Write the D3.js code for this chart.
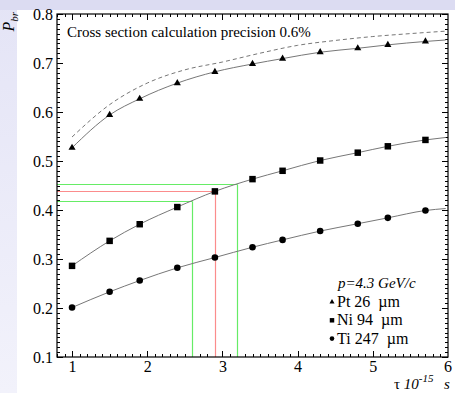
<!DOCTYPE html>
<html>
<head>
<meta charset="utf-8">
<script src="https://cdn.jsdelivr.net/npm/d3@7"></script>
<style>
  body { margin: 0; background: #fff; }
</style>
</head>
<body>
<div id="chart"></div>
<script>
// data
const tau = [1, 1.5, 1.9, 2.4, 2.9, 3.4, 3.8, 4.3, 4.8, 5.2, 5.7];
const pt = [0.527, 0.594, 0.627, 0.659, 0.682, 0.698, 0.709, 0.722, 0.730, 0.737, 0.744];
const ni = [0.286, 0.337, 0.371, 0.406, 0.438, 0.463, 0.480, 0.501, 0.517, 0.530, 0.543];
const ti = [0.201, 0.233, 0.256, 0.282, 0.303, 0.324, 0.339, 0.357, 0.372, 0.384, 0.399];
// fitted curves run on to the right edge of the frame
const tauEnd = 5.97;
const fitEnd = [0.747, 0.548, 0.403];
// dashed curve (upper)
const dashTau = [1, 1.5, 2, 2.5, 3, 3.5, 4, 4.5, 5, 5.5, 5.97];
const dashP = [0.549, 0.615, 0.659, 0.686, 0.702, 0.720, 0.736, 0.746, 0.754, 0.760, 0.765];
// interval guide lines: [tau, P]
const greenGuides = [[2.6, 0.419], [3.2, 0.453]];
const redGuide = [2.9, 0.438];

const xTicks = [1, 2, 3, 4, 5, 6];
const yTicks = [0.1, 0.2, 0.3, 0.4, 0.5, 0.6, 0.7, 0.8];
const legendTitle = "p=4.3 GeV/c";
const legendLabels = ["Pt 26  \u00b5m", "Ni 94  \u00b5m", "Ti 247  \u00b5m"];
const note = "Cross section calculation precision 0.6%";

const W = 455, H = 393;
const mLeft = 57, mRight = 448, mTop = 14, mBottom = 357;
const serif = "'Liberation Serif', 'Times New Roman', Times, serif";

const svg = d3.select("#chart").append("svg")
  .attr("width", W).attr("height", H)
  .style("font-family", serif);

// slide background
const defs = svg.append("defs");
const grad = defs.append("linearGradient").attr("id", "side")
  .attr("x1", 0).attr("y1", 0).attr("x2", 0).attr("y2", 1);
grad.append("stop").attr("offset", 0).attr("stop-color", "#e4e4f6");
grad.append("stop").attr("offset", 1).attr("stop-color", "#f2f2fb");
svg.append("rect").attr("x", 0).attr("y", 0).attr("width", 17).attr("height", H).attr("fill", "url(#side)");
svg.append("rect").attr("x", 0).attr("y", 0).attr("width", W).attr("height", 10).attr("fill", "#dcdcf2");

const x = d3.scaleLinear().domain([0.8, 6]).range([mLeft, mRight]);
const y = d3.scaleLinear().domain([0.1, 0.8]).range([mBottom, mTop]);

const xMinor = d3.range(8, 61).map(d => d / 10).filter(d => d <= 5.99);
const yMinor = d3.range(10, 81).map(d => d / 100);

function tickAxis(axis, ticks, size, tx, ty, labels) {
  const g = svg.append("g").attr("transform", "translate(" + tx + "," + ty + ")")
    .call(axis.tickValues(ticks).tickSizeInner(size).tickSizeOuter(0).tickPadding(4)
      .tickFormat(labels ? d3.format(".1~f") : ""));
  g.attr("font-family", null).attr("font-size", null);
  g.select(".domain").remove();
  g.selectAll("line").attr("stroke", "#000").attr("shape-rendering", "crispEdges");
  g.selectAll("text").style("font-family", serif).style("font-size", "16px").attr("fill", "#000");
  return g;
}

// bottom / left with labels, top / right ticks only
tickAxis(d3.axisBottom(x), xMinor, -3, 0, mBottom, false);
tickAxis(d3.axisBottom(x), xTicks.filter(d => d < 6), -6, 0, mBottom, true);
tickAxis(d3.axisTop(x), xMinor, -3, 0, mTop, false);
tickAxis(d3.axisTop(x), xTicks.filter(d => d < 6), -6, 0, mTop, false);
tickAxis(d3.axisLeft(y), yMinor, -3, mLeft, 0, false);
tickAxis(d3.axisLeft(y), yTicks, -6, mLeft, 0, true);
tickAxis(d3.axisRight(y), yMinor, -3, mRight, 0, false);
tickAxis(d3.axisRight(y), yTicks, -6, mRight, 0, false);

// label "6" sits at the frame corner
svg.append("text").attr("x", x(6)).attr("y", 372)
  .attr("text-anchor", "middle").style("font-size", "16px").text("6");

// guide lines, snapped to the pixel grid
const px = v => Math.round(v) + 0.5;
const guides = svg.append("g").attr("fill", "none").attr("stroke-width", 1.2);
function guide(g, color) {
  guides.append("line").attr("x1", mLeft).attr("x2", px(x(g[0])))
    .attr("y1", px(y(g[1]))).attr("y2", px(y(g[1]))).attr("stroke", color);
  guides.append("line").attr("x1", px(x(g[0]))).attr("x2", px(x(g[0])))
    .attr("y1", px(y(g[1]))).attr("y2", mBottom).attr("stroke", color);
}
greenGuides.forEach(g => guide(g, "#66ec66"));
guide(redGuide, "#fb8c8c");

// curves
const line = d3.line().x(d => x(d[0])).y(d => y(d[1])).curve(d3.curveMonotoneX);
const series = [pt, ni, ti];
const symbols = [d3.symbolTriangle, d3.symbolSquare, d3.symbolCircle];
const symSize = [22, 42, 34];
const legendSize = [11, 20, 17];

svg.append("path")
  .attr("d", line(dashTau.map((t, i) => [t, dashP[i]])))
  .attr("fill", "none").attr("stroke", "#777").attr("stroke-width", 1)
  .attr("stroke-dasharray", "4,3");

series.forEach((s, k) => {
  const pts = tau.map((t, i) => [t, s[i]]);
  svg.append("path")
    .attr("d", line(pts.concat([[tauEnd, fitEnd[k]]])))
    .attr("fill", "none").attr("stroke", "#777").attr("stroke-width", 1);
  svg.append("g").selectAll("path").data(pts).enter()
    .append("path")
    .attr("transform", d => "translate(" + x(d[0]) + "," + y(d[1]) + ")")
    .attr("d", d3.symbol().type(symbols[k]).size(symSize[k]))
    .attr("fill", "#000");
});

// frame
svg.append("rect").attr("x", mLeft).attr("y", mTop)
  .attr("width", mRight - mLeft).attr("height", mBottom - mTop)
  .attr("fill", "none").attr("stroke", "#000").attr("stroke-width", 1.2);

// note
svg.append("text").attr("x", 67).attr("y", 36.5).style("font-size", "15px").text(note);

// legend
svg.append("text").attr("x", 338).attr("y", 288).style("font-size", "15px")
  .style("font-style", "italic").text(legendTitle);
legendLabels.forEach((lab, i) => {
  const ly = 302 + i * 18.3;
  svg.append("path")
    .attr("transform", "translate(332," + ly + ")")
    .attr("d", d3.symbol().type(symbols[i]).size(legendSize[i]))
    .attr("fill", "#000");
  svg.append("text").attr("x", 337).attr("y", ly + 5)
    .style("font-size", "16px").style("white-space", "pre").text(lab);
});

// axis titles
const xt = svg.append("text").attr("x", 394).attr("y", 389).style("font-size", "15px");
xt.append("tspan").text("\u03c4 ");
xt.append("tspan").style("font-style", "italic").text("10");
xt.append("tspan").style("font-style", "italic").style("font-size", "11px")
  .attr("dy", -7).text("-15");
svg.append("text").attr("x", 444).attr("y", 389).style("font-size", "15px")
  .style("font-style", "italic").text("s");

const yt = svg.append("text").attr("transform", "translate(14,12) rotate(-90)")
  .attr("text-anchor", "end").style("font-size", "16px").style("font-style", "italic");
yt.append("tspan").text("P");
yt.append("tspan").attr("dy", 4).style("font-size", "11px").text("br");
</script>
</body>
</html>
